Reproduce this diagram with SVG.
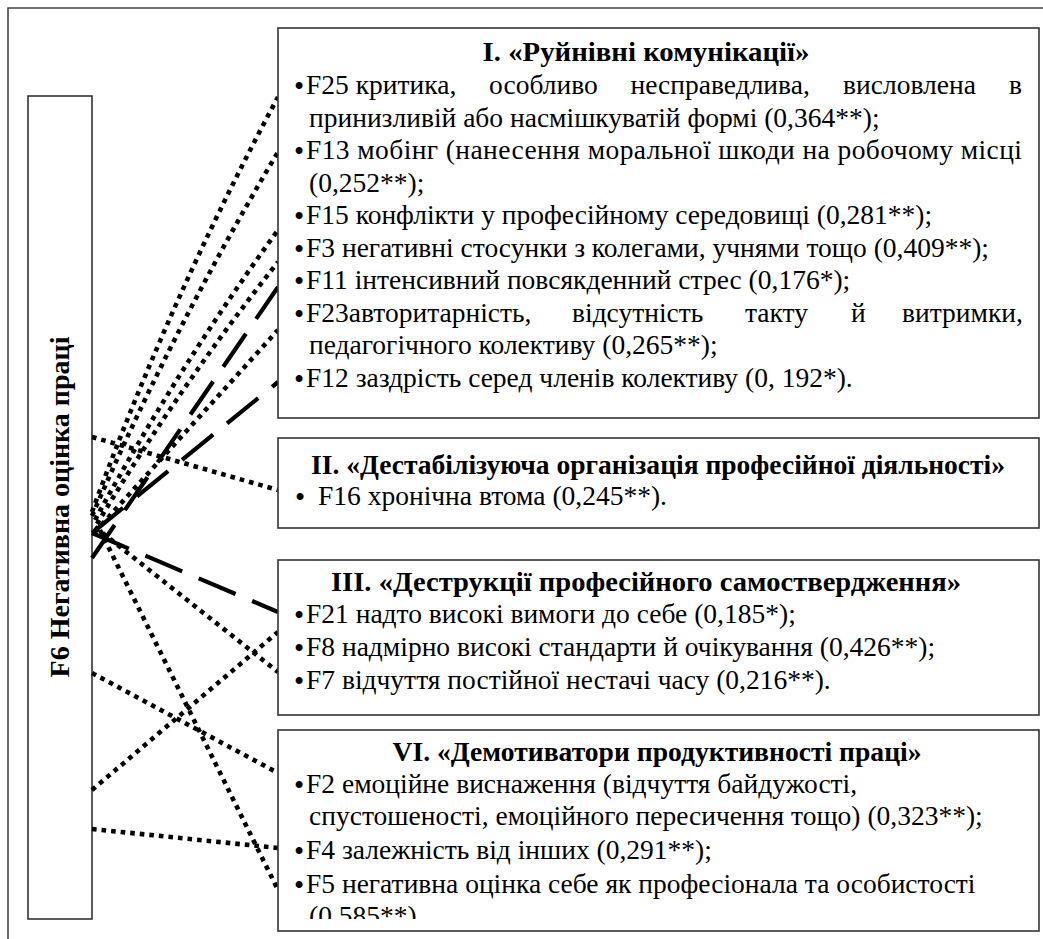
<svg xmlns="http://www.w3.org/2000/svg" width="1043" height="939" viewBox="0 0 1043 939">
<style>
.frame{fill:none;stroke:#444;stroke-width:1.6}
.box{fill:#fff;stroke:#333;stroke-width:1.6}
.t{font-family:"Liberation Serif","Times New Roman",serif;font-size:27.5px;fill:#000}
.b{font-weight:bold;font-size:28px}
.bu{font-size:29px}
.dot{fill:none;stroke:#000;stroke-width:4.6;stroke-dasharray:4.6 5}
.dash{fill:none;stroke:#000;stroke-width:4.2;stroke-dasharray:40 18}
</style>
<defs>
<clipPath id="clip4"><rect x="279" y="731" width="759" height="188"/></clipPath>
</defs>
<rect width="1043" height="939" fill="#fff"/>
<path class="frame" d="M8,939 V8 H1043"/>

<g id="f6">
<rect class="box" x="28" y="96" width="64" height="823"/>
<text class="t b" text-anchor="middle" transform="translate(69,507) rotate(-90)">F6 Негативна оцінка праці</text>
</g>

<g id="connectors">
<path class="dot" d="M92,512 Q170,298 278,97"/>
<path class="dot" d="M92,516 Q173,328 278,152"/>
<path class="dot" d="M95,520 Q177,369 278,230"/>
<path class="dot" d="M97,524 Q179,387 278,262"/>
<path class="dash" d="M92,558 L278,287"/>
<path class="dot" d="M95,532 L278,330"/>
<path class="dash" d="M92,533 L278,382"/>
<path class="dot" d="M92,437 L278,490"/>
<path class="dash" d="M92,533 L278,612"/>
<path class="dot" d="M92,790 L278,632"/>
<path class="dot" d="M95,527 L278,672"/>
<path class="dot" d="M92,673 L278,773"/>
<path class="dot" d="M92,829 L278,848"/>
<path class="dot" d="M100,530 L278,890"/>
</g>

<g id="box1">
<rect class="box" x="278" y="28" width="761" height="390"/>
<text class="t b" x="646" y="61" text-anchor="middle" textLength="327" lengthAdjust="spacingAndGlyphs">I. «Руйнівні комунікації»</text>
<text class="t" y="94"><tspan class="bu" x="294" dy="2">•</tspan><tspan x="306" dy="-2">F25 критика,</tspan><tspan x="489">особливо</tspan><tspan x="630.5">несправедлива,</tspan><tspan x="843">висловлена</tspan><tspan x="1009">в</tspan></text>
<text class="t" x="309" y="126.5">принизливій або насмішкуватій формі (0,364**);</text>
<text class="t" y="159"><tspan class="bu" x="294" dy="2">•</tspan><tspan x="306" dy="-2" textLength="716" lengthAdjust="spacing">F13 мобінг (нанесення моральної шкоди на робочому місці</tspan></text>
<text class="t" x="309" y="191.5">(0,252**);</text>
<text class="t" y="224"><tspan class="bu" x="294" dy="2">•</tspan><tspan x="306" dy="-2">F15 конфлікти у професійному середовищі (0,281**);</tspan></text>
<text class="t" y="256.5"><tspan class="bu" x="294" dy="2">•</tspan><tspan x="306" dy="-2">F3 негативні стосунки з колегами, учнями тощо (0,409**);</tspan></text>
<text class="t" y="289"><tspan class="bu" x="294" dy="2">•</tspan><tspan x="306" dy="-2">F11 інтенсивний повсякденний стрес (0,176*);</tspan></text>
<text class="t" y="321.5"><tspan class="bu" x="294" dy="2">•</tspan><tspan x="306" dy="-2">F23авторитарність,</tspan><tspan x="572">відсутність</tspan><tspan x="745">такту</tspan><tspan x="851">й</tspan><tspan x="902">витримки,</tspan></text>
<text class="t" x="309" y="354">педагогічного колективу (0,265**);</text>
<text class="t" y="386.5"><tspan class="bu" x="294" dy="2">•</tspan><tspan x="306" dy="-2">F12 заздрість серед членів колективу (0, 192*).</tspan></text>
</g>

<g id="box2">
<rect class="box" x="278" y="438" width="761" height="90"/>
<text class="t b" x="658" y="474" text-anchor="middle" textLength="694" lengthAdjust="spacingAndGlyphs">II. «Дестабілізуюча організація професійної діяльності»</text>
<text class="t" y="505"><tspan class="bu" x="295" dy="2">•</tspan><tspan x="318" dy="-2">F16 хронічна втома (0,245**).</tspan></text>
</g>

<g id="box3">
<rect class="box" x="278" y="560" width="761" height="155"/>
<text class="t b" x="646" y="591" text-anchor="middle" textLength="630" lengthAdjust="spacingAndGlyphs">III. «Деструкції професійного самоствердження»</text>
<text class="t" y="623"><tspan class="bu" x="294" dy="2">•</tspan><tspan x="306" dy="-2">F21 надто високі вимоги до себе (0,185*);</tspan></text>
<text class="t" y="656"><tspan class="bu" x="294" dy="2">•</tspan><tspan x="306" dy="-2">F8 надмірно високі стандарти й очікування (0,426**);</tspan></text>
<text class="t" y="689"><tspan class="bu" x="294" dy="2">•</tspan><tspan x="306" dy="-2">F7 відчуття постійної нестачі часу (0,216**).</tspan></text>
</g>

<g id="box4">
<rect class="box" x="278" y="730" width="761" height="201"/>
<text class="t b" x="657" y="761" text-anchor="middle" textLength="529" lengthAdjust="spacingAndGlyphs">VI. «Демотиватори продуктивності праці»</text>
<text class="t" y="793"><tspan class="bu" x="294" dy="2">•</tspan><tspan x="306" dy="-2">F2 емоційне виснаження (відчуття байдужості,</tspan></text>
<text class="t" x="309" y="825">спустошеності, емоційного пересичення тощо) (0,323**);</text>
<text class="t" y="859"><tspan class="bu" x="294" dy="2">•</tspan><tspan x="306" dy="-2">F4 залежність від інших (0,291**);</tspan></text>
<text class="t" y="893"><tspan class="bu" x="294" dy="2">•</tspan><tspan x="306" dy="-2">F5 негативна оцінка себе як професіонала та особистості</tspan></text>
<text class="t" x="309" y="925" clip-path="url(#clip4)">(0,585**).</text>
</g>
</svg>
